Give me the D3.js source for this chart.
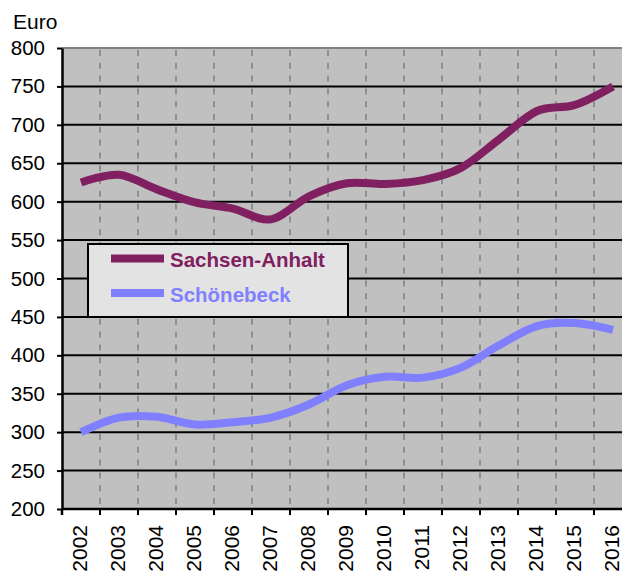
<!DOCTYPE html>
<html>
<head>
<meta charset="utf-8">
<script src="https://cdn.jsdelivr.net/npm/d3@7"></script>
<style>
  body { margin: 0; background: #fff; }
  text { font-family: "Liberation Sans", Arial, sans-serif; }
</style>
</head>
<body>
<div id="chart"></div>
<script>
// Daten
const jahre = ["2002", "2003", "2004", "2005", "2006", "2007", "2008", "2009",
               "2010", "2011", "2012", "2013", "2014", "2015", "2016"];
const sachsenAnhalt = [625, 635, 616, 599, 591, 577, 607, 624, 623, 628, 644, 681, 718, 726, 750];
const schoenebeck = [300, 319, 320, 310, 313, 319, 336, 361, 372, 371, 384, 413, 438, 442, 433];
const yTicks = [200, 250, 300, 350, 400, 450, 500, 550, 600, 650, 700, 750, 800];

const serien = [
    { name: "Sachsen-Anhalt", werte: sachsenAnhalt, farbe: "#802060" },
    { name: "Schönebeck", werte: schoenebeck, farbe: "#8080ff" },
];

function drawChart() {
    const dim = {
        sirina: 622,
        visina: 572,
        margine: { top: 48, left: 62 },
        grSirina: 570,
        grVisina: 461,
    };

    const svg = d3.select("#chart")
        .append("svg")
        .attr("width", dim.sirina)
        .attr("height", dim.visina);

    const g = svg.append("g")
        .attr("transform", `translate(${dim.margine.left},${dim.margine.top})`);

    const xScale = d3.scaleBand()
        .domain(jahre)
        .range([0, dim.grSirina]);

    const yScale = d3.scaleLinear()
        .domain([200, 800])
        .range([dim.grVisina, 0]);

    // Hintergrund
    g.append("rect")
        .attr("width", dim.grSirina)
        .attr("height", dim.grVisina)
        .attr("fill", "#c0c0c0");

    // vertikale gestrichelte Linien an den Kategoriegrenzen
    g.selectAll(".vgrid")
        .data(jahre.slice(1))
        .join("line")
        .attr("x1", d => xScale(d))
        .attr("x2", d => xScale(d))
        .attr("y1", 2)
        .attr("y2", dim.grVisina)
        .attr("stroke", "#8f8f8f")
        .attr("stroke-width", 2)
        .attr("stroke-dasharray", "6,6.8");

    // horizontale Gitterlinien
    g.selectAll(".hgrid")
        .data(yTicks.filter(d => d > 200 && d < 800))
        .join("line")
        .attr("x1", 0)
        .attr("x2", dim.grSirina)
        .attr("y1", d => yScale(d))
        .attr("y2", d => yScale(d))
        .attr("stroke", "#000")
        .attr("stroke-width", 2);

    // obere Kante
    g.append("line")
        .attr("x1", 0)
        .attr("x2", dim.grSirina)
        .attr("y1", yScale(800))
        .attr("y2", yScale(800))
        .attr("stroke", "#808080")
        .attr("stroke-width", 2);

    // Y-Achse
    const yAxis = g.append("g")
        .call(d3.axisLeft(yScale).tickValues(yTicks).tickSize(5).tickSizeOuter(0));
    yAxis.select(".domain").attr("stroke-width", 2.5);
    yAxis.selectAll(".tick line").attr("stroke-width", 2);
    yAxis.selectAll(".tick text")
        .attr("x", -17)
        .attr("font-size", 20.5)
        .attr("font-family", "Liberation Sans, Arial, sans-serif")
        .attr("fill", "#000");

    // X-Achse
    g.append("line")
        .attr("x1", 0)
        .attr("x2", dim.grSirina)
        .attr("y1", dim.grVisina)
        .attr("y2", dim.grVisina)
        .attr("stroke", "#000")
        .attr("stroke-width", 2.5);
    g.append("line")
        .attr("x1", 0)
        .attr("x2", 0)
        .attr("y1", dim.grVisina)
        .attr("y2", dim.grVisina + 6)
        .attr("stroke", "#000")
        .attr("stroke-width", 2.5);
    g.selectAll(".xtick")
        .data(jahre.slice(1))
        .join("line")
        .attr("x1", d => xScale(d))
        .attr("x2", d => xScale(d))
        .attr("y1", dim.grVisina)
        .attr("y2", dim.grVisina + 6)
        .attr("stroke", "#000")
        .attr("stroke-width", 2);

    g.selectAll(".xlabel")
        .data(jahre)
        .join("text")
        .attr("transform", d => `translate(${xScale(d) + xScale.bandwidth() / 2 + 6},${dim.grVisina + 16}) rotate(-90)`)
        .attr("text-anchor", "end")
        .attr("font-size", 21)
        .text(d => d);

    // Einheit
    svg.append("text")
        .attr("x", 13)
        .attr("y", 29)
        .attr("font-size", 21)
        .text("Euro");

    // Linien
    const linija = d3.line()
        .x((d, i) => xScale(jahre[i]) + xScale.bandwidth() / 2)
        .y(d => yScale(d))
        .curve(d3.curveCardinal.tension(0));

    serien.forEach(s => {
        g.append("path")
            .datum(s.werte)
            .attr("d", linija)
            .attr("fill", "none")
            .attr("stroke", s.farbe)
            .attr("stroke-width", 8)
            .attr("stroke-linejoin", "round");
    });

    // Legende
    const legenda = svg.append("g");
    legenda.append("rect")
        .attr("x", 88)
        .attr("y", 244)
        .attr("width", 260)
        .attr("height", 73)
        .attr("fill", "#e3e3e3")
        .attr("stroke", "#000")
        .attr("stroke-width", 2);

    serien.forEach((s, i) => {
        const y = 258.5 + i * 34.5;
        legenda.append("line")
            .attr("x1", 111)
            .attr("x2", 164)
            .attr("y1", y)
            .attr("y2", y)
            .attr("stroke", s.farbe)
            .attr("stroke-width", 8);
        legenda.append("text")
            .attr("x", 170)
            .attr("y", y + 8.5)
            .attr("font-size", 20.5)
            .attr("font-weight", "bold")
            .attr("fill", s.farbe)
            .text(s.name);
    });
}

drawChart();
</script>
</body>
</html>
